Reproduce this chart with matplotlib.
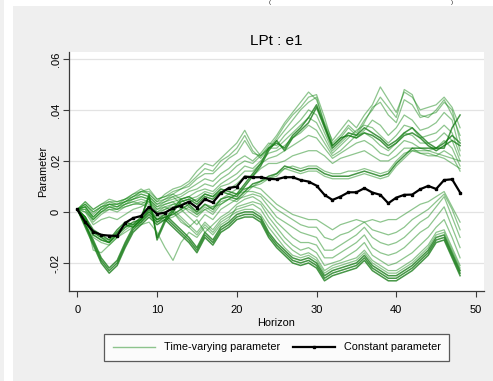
import matplotlib
matplotlib.use("Agg")
import matplotlib.pyplot as plt
from matplotlib.patches import Rectangle
from matplotlib.lines import Line2D
import numpy as np

plt.rcParams['font.family'] = ['Liberation Sans', 'DejaVu Sans']

horizon = list(range(49))

# constant parameter estimate by horizon
const_param = [0.0010, -0.0040, -0.0077, -0.0090, -0.0093, -0.0094, -0.0043, -0.0024, -0.0016, 0.0020,
               -0.0008, -0.0003, 0.0015, 0.0025, 0.0040, 0.0017, 0.0050, 0.0037, 0.0074, 0.0094,
               0.0099, 0.0138, 0.0136, 0.0136, 0.0130, 0.0128, 0.0136, 0.0136, 0.0125, 0.0119,
               0.0103, 0.0067, 0.0047, 0.0060, 0.0077, 0.0077, 0.0093, 0.0076, 0.0067, 0.0034,
               0.0056, 0.0067, 0.0068, 0.0089, 0.0102, 0.0090, 0.0125, 0.0128, 0.0076]

# time-varying parameter paths, in thousandths
tv_upper = [
    [1, 4, 1, 3, 4, 4, 5, 7, 9, 7, 4, 7, 9, 10, 12, 16, 19, 18, 21, 24,
     27, 32, 26, 22, 26, 30, 35, 39, 43, 47, 44, 35, 28, 32, 36, 33, 38, 42, 49, 44,
     39, 47, 45, 40, 41, 42, 45, 41, 33],
    [1, 3, 0, 2, 4, 3, 5, 6, 8, 8, 5, 6, 8, 9, 11, 14, 17, 16, 20, 22,
     25, 30, 24, 21, 25, 29, 34, 38, 41, 45, 46, 37, 27, 30, 34, 31, 36, 40, 45, 41,
     37, 48, 46, 38, 37, 40, 44, 38, 30],
    [1, 3, -1, 2, 3, 3, 4, 6, 8, 9, 5, 6, 7, 9, 10, 13, 15, 15, 18, 21,
     23, 28, 23, 22, 25, 28, 32, 36, 40, 43, 45, 34, 26, 29, 33, 30, 35, 41, 43, 38,
     35, 44, 42, 37, 38, 39, 43, 40, 28],
    [1, -3, -8, -10, -12, -8, -5, -6, -3, 7, -11, -4, 0, 4, 5, 3, 6, 5, 8, 7,
     6, 10, 14, 18, 24, 28, 24, 29, 32, 35, 41, 33, 25, 28, 31, 30, 33, 31, 29, 26,
     28, 31, 33, 30, 27, 25, 27, 30, 27],
    [1, -2, -7, -9, -11, -7, -4, -5, -2, 6, -10, -3, 1, 5, 6, 4, 7, 6, 9, 8,
     7, 11, 15, 19, 25, 27, 25, 30, 33, 37, 42, 34, 26, 29, 30, 29, 31, 30, 28, 25,
     27, 30, 31, 29, 26, 24, 26, 28, 26],
    [1, 2, -2, 1, 3, 2, 4, 5, 7, 6, 3, 5, 6, 7, 9, 11, 13, 12, 15, 17,
     20, 22, 20, 23, 27, 26, 30, 33, 36, 40, 38, 31, 24, 27, 30, 29, 32, 36, 34, 30,
     33, 38, 36, 32, 33, 35, 39, 36, 24],
    [1, 2, -2, 1, 2, 2, 3, 5, 6, 5, 2, 4, 5, 6, 8, 9, 11, 10, 13, 15,
     18, 20, 19, 22, 25, 25, 28, 31, 34, 37, 35, 29, 23, 26, 29, 32, 34, 33, 30, 27,
     30, 34, 33, 29, 30, 31, 34, 31, 22],
    [1, 2, -3, 0, 2, 1, 3, 4, 5, 4, 1, 3, 4, 5, 6, 8, 9, 8, 11, 13,
     15, 18, 17, 20, 23, 24, 26, 29, 31, 34, 32, 27, 22, 24, 27, 30, 31, 29, 26, 24,
     27, 31, 30, 27, 27, 28, 31, 28, 20],
    [1, 1, -3, 0, 1, 1, 2, 3, 4, 3, 0, 2, 3, 4, 5, 6, 8, 7, 10, 11,
     13, 16, 16, 19, 21, 22, 24, 26, 28, 30, 29, 25, 21, 23, 25, 27, 28, 26, 23, 22,
     25, 28, 27, 25, 24, 25, 28, 25, 18],
    [1, 1, -4, -1, 1, 0, 2, 3, 3, 2, -1, 1, 2, 3, 4, 5, 7, 6, 8, 9,
     11, 14, 14, 17, 19, 19, 20, 22, 23, 24, 24, 22, 19, 21, 22, 23, 24, 22, 20, 20,
     22, 25, 25, 23, 22, 22, 24, 22, 16],
]

tv_middle = [
    [1, -2, -9, -11, -12, -9, -6, -4, -3, 1, -3, -2, -1, 1, 3, 0, 3, 1, 5, 6,
     5, 8, 11, 12, 14, 15, 18, 17, 16, 17, 17, 15, 14, 14, 14, 15, 16, 15, 14, 15,
     19, 22, 25, 25, 25, 25, 25, 33, 38],
    [1, -3, -10, -12, -13, -10, -7, -5, -4, 0, -4, -3, -2, 0, 2, -1, 2, 0, 4, 5,
     4, 7, 10, 11, 13, 14, 17, 16, 15, 16, 16, 14, 13, 13, 13, 14, 15, 14, 13, 14,
     18, 21, 24, 24, 24, 23, 22, 21, 20],
    [1, 0, -5, -3, -2, -3, -1, 1, 2, 4, 0, 1, 3, 2, 1, -1, 1, 2, 3, 5,
     7, 9, 10, 12, 13, 15, 17, 18, 17, 18, 18, 16, 15, 15, 16, 16, 17, 16, 15, 16,
     20, 23, 24, 23, 23, 22, 21, 19, 17],
]

tv_lower = [
    [1, -6, -13, -20, -24, -21, -14, -8, -5, -2, -5, -3, -6, -9, -12, -16, -10, -13, -8, -6,
     -3, -2, -2, -4, -10, -14, -17, -20, -21, -20, -22, -27, -25, -24, -23, -22, -19, -23, -25, -27,
     -27, -25, -23, -20, -17, -12, -11, -18, -25],
    [1, -5, -12, -19, -23, -20, -13, -7, -4, -1, -4, -2, -5, -8, -11, -15, -9, -12, -7, -5,
     -2, -1, -1, -3, -9, -13, -16, -19, -20, -19, -21, -26, -24, -23, -22, -21, -18, -22, -24, -26,
     -26, -24, -22, -19, -16, -11, -10, -17, -24],
    [1, -5, -11, -18, -22, -19, -12, -6, -3, 0, -3, -1, -4, -7, -10, -14, -8, -11, -6, -4,
     -1, 0, 0, -2, -8, -12, -15, -18, -19, -18, -20, -25, -23, -22, -21, -20, -17, -21, -23, -25,
     -25, -23, -21, -18, -15, -10, -9, -16, -23],
    [1, -3, -8, -10, -11, -8, -5, -6, -4, 1, -2, -1, 0, -3, -6, -9, -5, -8, -4, -2,
     0, 1, 1, -1, -6, -10, -14, -17, -18, -17, -19, -24, -22, -21, -20, -19, -16, -20, -22, -24,
     -24, -22, -20, -17, -14, -9, -8, -15, -22],
    [1, -3, -9, -11, -12, -9, -6, -5, -3, 2, -1, 0, 1, -2, -5, -8, -4, -7, -3, -1,
     1, 2, 3, 1, -4, -8, -12, -15, -17, -16, -18, -23, -21, -20, -19, -18, -15, -19, -21, -23,
     -23, -21, -19, -16, -13, -8, -7, -14, -21],
    [1, -2, -15, -16, -13, -10, -8, -6, -5, -4, -8, -14, -19, -12, -8, -10, -6, -9, -5, -3,
     2, 3, 4, 3, -2, -6, -10, -13, -15, -14, -16, -21, -20, -19, -17, -15, -12, -17, -19, -21,
     -20, -18, -16, -13, -10, -6, -3, -10, -18],
    [1, 0, -3, 0, 2, 1, 3, 4, 3, 5, 1, 2, 0, -4, -6, -3, -8, -5, -2, 0,
     3, 5, 6, 4, 0, -4, -7, -10, -12, -12, -13, -18, -18, -16, -14, -12, -9, -14, -16, -17,
     -16, -14, -11, -8, -6, -2, 2, -6, -14],
    [1, 2, -2, 1, 3, 2, 4, 5, 6, 5, 2, 3, 4, 1, -2, -5, -1, -3, 1, 3,
     5, 6, 7, 6, 2, -2, -4, -6, -8, -9, -10, -15, -15, -13, -11, -9, -6, -10, -12, -13,
     -12, -10, -7, -4, -2, 2, 6, -2, -10],
    [1, 3, 0, 2, 3, 3, 4, 6, 7, 6, 3, 4, 6, 3, 0, -2, 1, -1, 3, 5,
     7, 8, 8, 7, 4, 1, -1, -3, -5, -6, -6, -10, -11, -9, -8, -6, -4, -7, -8, -9,
     -8, -6, -3, -1, 1, 4, 7, 1, -7],
    [1, 4, 1, 3, 5, 4, 5, 7, 8, 7, 4, 5, 7, 5, 2, 0, 3, 2, 5, 7,
     9, 9, 10, 9, 6, 3, 1, -1, -2, -3, -3, -5, -7, -5, -4, -3, -4, -3, -4, -3,
     -3, -1, 1, 3, 4, 6, 8, 2, -4],
]

ytick_vals = [-0.02, 0, 0.02, 0.04, 0.06]
ytick_labels = ['-.02', '0', '.02', '.04', '.06']
xtick_vals = [0, 10, 20, 30, 40, 50]

W, H = 493, 381
fig = plt.figure(figsize=(W / 100, H / 100), dpi=100, facecolor='white')
# screenshot background: grey graph region, thin grey strip on the far left
fig.patches.append(Rectangle((13 / W, 0), 1 - 13 / W, (H - 6) / H, transform=fig.transFigure,
                             facecolor='#EFEFEF', edgecolor='none', zorder=-10))
fig.patches.append(Rectangle((0, 0), 4 / W, 1, transform=fig.transFigure,
                             facecolor='#F0F0F0', edgecolor='none', zorder=-10))
# remains of a caption above the graph
fig.text(270 / W, 1.0, '(', fontsize=4.5, ha='center', va='top', color='#222222')
fig.text(452 / W, 1.0, ')', fontsize=4.5, ha='center', va='top', color='#222222')

ax = fig.add_axes([69 / W, 90 / H, 415 / W, 239 / H])
ax.set_facecolor('white')

green = '#1E8C1E'
dark_green = '#0A740A'
dark_rows = {3, 4, 10, 13, 14, 15}   # lines that look heavier in the original
all_rows = tv_upper + tv_middle + tv_lower
for i, row in enumerate(all_rows):
    if i in dark_rows:
        ax.plot(horizon, np.array(row) / 1000, color=dark_green, alpha=0.75, lw=1.1)
    else:
        ax.plot(horizon, np.array(row) / 1000, color=green, alpha=0.5, lw=0.9)
ax.plot(horizon, const_param, color='black', lw=1.6, marker='s', ms=1.6)

ax.set_xlim(-1.04, 51.0)
ax.set_ylim(-0.031, 0.0627)
ax.set_yticks(ytick_vals)
ax.set_yticklabels(ytick_labels, rotation=90, va='center')
ax.set_xticks(xtick_vals)
ax.grid(axis='y', color='#E3E3E3', lw=0.9)
ax.set_axisbelow(True)
for s in ['top', 'right']:
    ax.spines[s].set_visible(False)
for s in ['left', 'bottom']:
    ax.spines[s].set_color('#3A3A3A')
    ax.spines[s].set_linewidth(0.9)
ax.tick_params(direction='out', length=4, width=0.8, color='#3A3A3A', labelsize=8, pad=2)
ax.tick_params(axis='x', pad=6)

ax.set_title('LPt : e1', fontsize=11, pad=5)
ax.set_xlabel('Horizon', fontsize=7.8, labelpad=2)
ax.set_ylabel('Parameter', fontsize=7.8, labelpad=2)

handles = [Line2D([], [], color=green, alpha=0.5, lw=1),
           Line2D([], [], color='black', lw=1.6, marker='s', ms=1.6)]
leg = fig.legend(handles, ['Time-varying parameter', 'Constant parameter'],
                 loc='center', bbox_to_anchor=(276.5 / W, (H - 347.5) / H), ncol=2,
                 fontsize=7.8, frameon=True, fancybox=False, edgecolor='#333333',
                 handlelength=3.9, handletextpad=0.8, columnspacing=1.2,
                 borderpad=0.8)
leg.get_frame().set_linewidth(0.9)

fig.savefig('out.png', dpi=100, facecolor=fig.get_facecolor())
